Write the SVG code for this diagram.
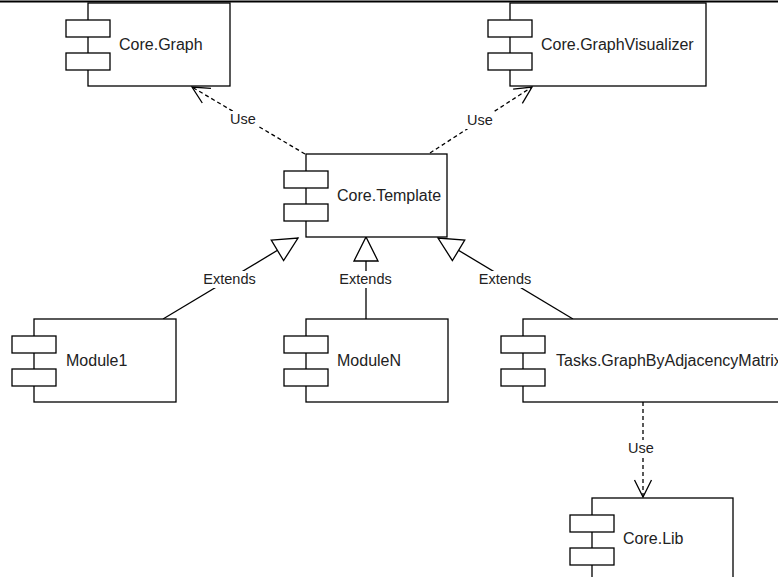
<svg xmlns="http://www.w3.org/2000/svg" width="778" height="577" viewBox="0 0 778 577">
  <defs>
    <style>
      .box { fill: #ffffff; stroke: #000000; stroke-width: 1.3; }
      .port { fill: #ffffff; stroke: #000000; stroke-width: 1.3; }
      .name { font-family: "Liberation Sans", Arial, sans-serif; font-size: 16px; fill: #222222; }
      .edge { fill: none; stroke: #000000; stroke-width: 1.3; }
      .dash { stroke-dasharray: 4 3; }
      .lbl-bg { fill: #ffffff; }
      .lbl { font-family: "Liberation Sans", Arial, sans-serif; font-size: 14.5px; fill: #222222; text-anchor: middle; }
    </style>
    <!-- open arrowhead for "Use" dependencies -->
    <marker id="open" markerUnits="userSpaceOnUse" viewBox="-20 -10 22 20" refX="0" refY="0" markerWidth="22" markerHeight="20" orient="auto" overflow="visible">
      <path d="M-17,-8.5 L0,0 L-17,8.5" fill="none" stroke="#000000" stroke-width="1.3" stroke-dasharray="none"/>
    </marker>
    <!-- hollow triangle for "Extends" generalisation -->
    <marker id="tri" markerUnits="userSpaceOnUse" viewBox="-26 -14 28 28" refX="0" refY="0" markerWidth="28" markerHeight="28" orient="auto" overflow="visible">
      <path d="M-24,-12 L0,0 L-24,12 Z" fill="#ffffff" stroke="#000000" stroke-width="1.3" stroke-dasharray="none"/>
    </marker>
  </defs>

  <rect x="0" y="0" width="778" height="577" fill="#ffffff"/>
  <line x1="0" y1="1.5" x2="778" y2="1.5" stroke="#000000" stroke-width="2"/>

  <!-- connectors -->
  <g id="connectors">
    <path class="edge dash" d="M305,154 L192,87" marker-end="url(#open)"/>
    <path class="edge dash" d="M430,153 L532,87" marker-end="url(#open)"/>
    <path class="edge" d="M163,319 L298,238" marker-end="url(#tri)"/>
    <path class="edge" d="M366,319 L366,237" marker-end="url(#tri)"/>
    <path class="edge" d="M573,319 L438,238" marker-end="url(#tri)"/>
    <path class="edge dash" d="M643,402 L643,497" marker-end="url(#open)"/>

    <rect class="lbl-bg" x="229" y="111" width="28" height="17"/>
    <text class="lbl" x="243" y="124">Use</text>
    <rect class="lbl-bg" x="466" y="112" width="28" height="17"/>
    <text class="lbl" x="480" y="125">Use</text>
    <rect class="lbl-bg" x="202" y="271" width="55" height="17"/>
    <text class="lbl" x="229.5" y="284">Extends</text>
    <rect class="lbl-bg" x="338" y="271" width="55" height="17"/>
    <text class="lbl" x="365.5" y="284">Extends</text>
    <rect class="lbl-bg" x="478" y="271" width="55" height="17"/>
    <text class="lbl" x="505" y="284">Extends</text>
    <rect class="lbl-bg" x="627" y="440" width="28" height="17"/>
    <text class="lbl" x="641" y="453">Use</text>
  </g>

  <!-- components -->
  <g id="core-graph">
    <rect class="box" x="88" y="3" width="142" height="83"/>
    <rect class="port" x="66" y="20" width="44" height="17"/>
    <rect class="port" x="66" y="53" width="44" height="17"/>
    <text class="name" x="119" y="50">Core.Graph</text>
  </g>

  <g id="core-graphvisualizer">
    <rect class="box" x="510" y="3" width="196" height="83"/>
    <rect class="port" x="488" y="20" width="44" height="17"/>
    <rect class="port" x="488" y="53" width="44" height="17"/>
    <text class="name" x="541" y="50">Core.GraphVisualizer</text>
  </g>

  <g id="core-template">
    <rect class="box" x="306" y="154" width="141" height="83"/>
    <rect class="port" x="284" y="171" width="44" height="17"/>
    <rect class="port" x="284" y="204" width="44" height="17"/>
    <text class="name" x="337" y="201">Core.Template</text>
  </g>

  <g id="module1">
    <rect class="box" x="34" y="319" width="142" height="83"/>
    <rect class="port" x="12" y="336" width="44" height="17"/>
    <rect class="port" x="12" y="369" width="44" height="17"/>
    <text class="name" x="66" y="366">Module1</text>
  </g>

  <g id="modulen">
    <rect class="box" x="306" y="319" width="142" height="83"/>
    <rect class="port" x="284" y="336" width="44" height="17"/>
    <rect class="port" x="284" y="369" width="44" height="17"/>
    <text class="name" x="337" y="366">ModuleN</text>
  </g>

  <g id="tasks-graphbyadjacencymatrix">
    <rect class="box" x="523" y="319" width="300" height="83"/>
    <rect class="port" x="501" y="336" width="44" height="17"/>
    <rect class="port" x="501" y="369" width="44" height="17"/>
    <text class="name" x="556" y="366">Tasks.GraphByAdjacencyMatrix</text>
  </g>

  <g id="core-lib">
    <rect class="box" x="592" y="498" width="141" height="83"/>
    <rect class="port" x="570" y="515" width="44" height="17"/>
    <rect class="port" x="570" y="548" width="44" height="17"/>
    <text class="name" x="623" y="544">Core.Lib</text>
  </g>
</svg>
